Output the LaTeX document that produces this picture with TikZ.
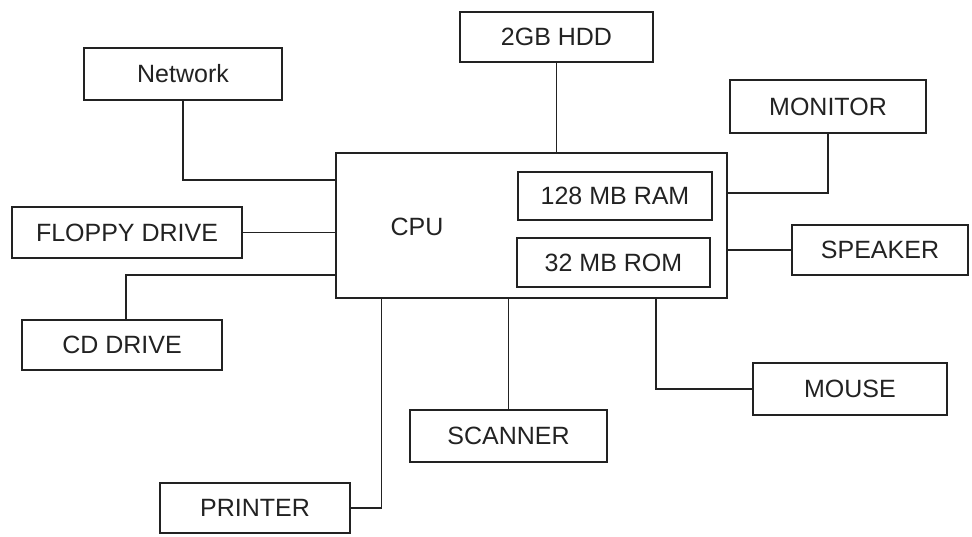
\documentclass[tikz,border=0pt]{standalone}
\usepackage{fontspec}
\setsansfont{Liberation Sans}
\usepackage{xcolor}
\definecolor{pcink}{HTML}{222222}
\usepackage{tikz}
\usetikzlibrary{positioning,calc}
\tikzset{
  pcbox/.style={draw=pcink,line width=1.6pt,text=pcink,inner sep=0pt,align=center,font=\sffamily\fontsize{25}{29}\selectfont},
  pcwire/.style={draw=pcink,line width=1.6pt},
}

\begin{document}
\begin{tikzpicture}[x=1pt,y=-1pt]
\useasboundingbox (0,0) rectangle (972,537);
\node[pcbox,minimum width=391pt,minimum height=145pt] (cpu) at (531.5,225.5) {};
\node[font=\sffamily\fontsize{25}{29}\selectfont,text=pcink] (cputxt) at (417,227) {CPU};
\node[pcbox,minimum width=194pt,minimum height=48pt] (ram) at (615,196) {128 MB RAM};
\node[pcbox,minimum width=193pt,minimum height=49pt] (rom) at (613.5,262.5) {32 MB ROM};
\node[pcbox,minimum width=198pt,minimum height=52pt] (net) at (183,74) {Network};
\node[pcbox,minimum width=193pt,minimum height=50pt] (hdd) at (556.5,37) {2GB HDD};
\node[pcbox,minimum width=196pt,minimum height=53pt] (mon) at (828,106.5) {MONITOR};
\node[pcbox,minimum width=230pt,minimum height=51pt] (fdd) at (127,232.5) {FLOPPY DRIVE};
\node[pcbox,minimum width=176pt,minimum height=50pt] (spk) at (880,250) {SPEAKER};
\node[pcbox,minimum width=200pt,minimum height=50pt] (cd) at (122,345) {CD DRIVE};
\node[pcbox,minimum width=194pt,minimum height=52pt] (mouse) at (850,389) {MOUSE};
\node[pcbox,minimum width=197pt,minimum height=52pt] (scan) at (508.5,436) {SCANNER};
\node[pcbox,minimum width=190pt,minimum height=50pt] (prn) at (255,508) {PRINTER};
% links to the cpu
\draw[pcwire] (net.south) |- ([yshift=45.5pt]cpu.west);
\draw[pcwire] (fdd.east) -- (fdd.east -| cpu.west);
\draw[pcwire] ([xshift=4pt]cd.north) |- ([yshift=-49.5pt]cpu.west);
\draw[pcwire] (prn.east) -| ([xshift=-150pt]cpu.south);
\draw[pcwire] (scan.north) -- (scan.north |- cpu.south);
\draw[pcwire] ([xshift=124.5pt]cpu.south) |- (mouse.west);
\draw[pcwire] (hdd.south) -- (hdd.south |- cpu.north);
\draw[pcwire] (mon.south) |- ([yshift=32.5pt]cpu.east);
\draw[pcwire] (spk.west) -- (spk.west -| cpu.east);
\end{tikzpicture}
\end{document}
